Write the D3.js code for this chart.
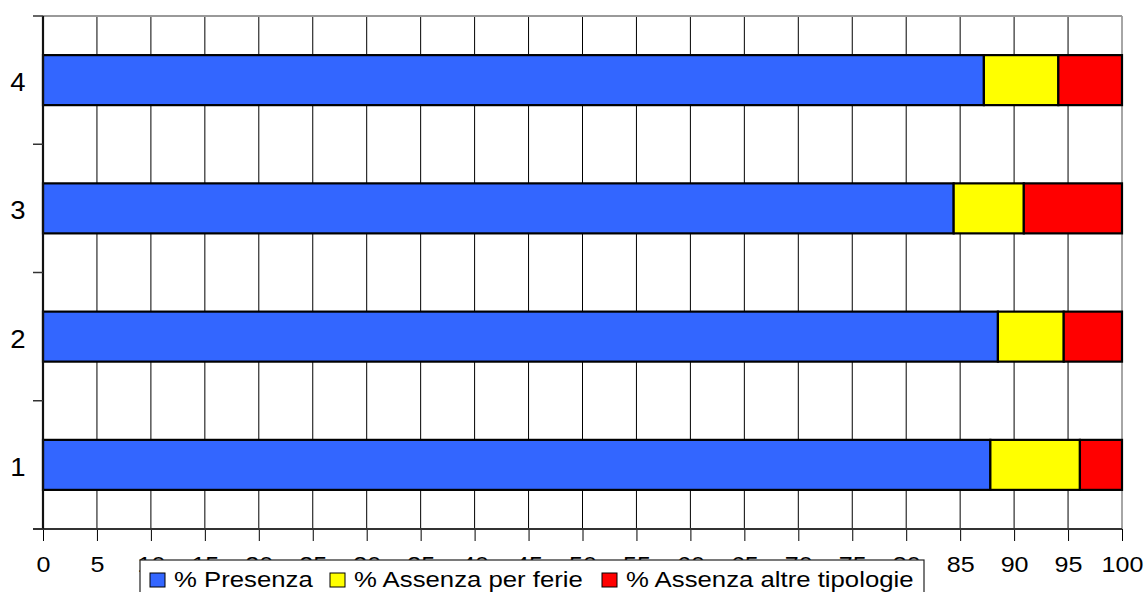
<!DOCTYPE html>
<html>
<head>
<meta charset="utf-8">
<script src="https://cdn.jsdelivr.net/npm/d3@7"></script>
<style>
  html, body { margin: 0; padding: 0; background: #fff; }
  text { font-family: "Liberation Sans", Arial, sans-serif; fill: #000; }
</style>
</head>
<body>
<script>
// categories from top to bottom
var categories = [ "4", "3", "2", "1" ];
var presenza = [ 87.2, 84.4, 88.5, 87.8 ];
var ferie = [ 6.9, 6.5, 6.1, 8.3 ];
var altre = [ 5.9, 9.1, 5.4, 3.9 ];
var seriesNames = [ "% Presenza", "% Assenza per ferie", "% Assenza altre tipologie" ];
var seriesColors = [ "#3366ff", "#ffff00", "#ff0000" ];
var xTicks = d3.range( 0, 101, 5 );

var width = 1145, height = 592;
var plotLeft = 43, plotRight = 1122, plotTop = 16, plotBottom = 529;
var sx = 1.14; // text looks horizontally stretched in the reference

var svg = d3.select( "body" ).append( "svg" )
	.attr( "width", width )
	.attr( "height", height );

var xScale = d3.scaleLinear().domain( [ 0, 100 ] ).range( [ plotLeft, plotRight ] );
var slot = d3.scaleBand().domain( categories ).range( [ plotTop, plotBottom ] );
var yScale = d3.scaleBand().domain( categories ).range( [ plotTop, plotBottom ] )
	.paddingInner( 0.61 ).paddingOuter( 0.305 );

var rows = categories.map( function ( c, i ) {
	return { cat: c, presenza: presenza[i], ferie: ferie[i], altre: altre[i] };
} );
var stack = d3.stack().keys( [ "presenza", "ferie", "altre" ] )( rows );

// vertical grid
svg.append( "g" )
	.selectAll( "line" )
	.data( xTicks.filter( function ( d ) { return d > 0; } ) )
	.enter().append( "line" )
	.attr( "x1", d => xScale( d ) ).attr( "x2", d => xScale( d ) )
	.attr( "y1", plotTop ).attr( "y2", plotBottom )
	.attr( "stroke", d => d === 100 ? "#888" : "#000" )
	.attr( "stroke-width", d => d === 100 ? 1.5 : 1 );

// top border
svg.append( "line" )
	.attr( "x1", plotLeft ).attr( "x2", plotRight )
	.attr( "y1", plotTop ).attr( "y2", plotTop )
	.attr( "stroke", "#999" ).attr( "stroke-width", 2 );

// bars
svg.append( "g" )
	.selectAll( "g" )
	.data( stack )
	.enter().append( "g" )
	.attr( "fill", (d, i) => seriesColors[i] )
	.selectAll( "rect" )
	.data( d => d )
	.enter().append( "rect" )
	.attr( "x", d => xScale( d[0] ) )
	.attr( "width", d => xScale( d[1] ) - xScale( d[0] ) )
	.attr( "y", d => yScale( d.data.cat ) )
	.attr( "height", yScale.bandwidth() )
	.attr( "stroke", "#000" )
	.attr( "stroke-width", 2.2 );

// x axis
var xAxis = svg.append( "g" )
	.attr( "transform", `translate(0, ${ plotBottom })` )
	.call( d3.axisBottom( xScale ).tickValues( xTicks ).tickSize( 12 ).tickSizeOuter( 0 ) );
xAxis.select( ".domain" ).remove();
xAxis.append( "line" )
	.attr( "x1", 33 ).attr( "x2", plotRight )
	.attr( "stroke", "#333" ).attr( "stroke-width", 2 );
xAxis.selectAll( ".tick line" ).attr( "stroke", "#000" );
xAxis.selectAll( ".tick text" )
	.attr( "y", 0 )
	.attr( "dy", 0 )
	.attr( "transform", `translate(0, 43) scale(${ sx }, 1)` )
	.style( "font-size", "22px" )
	.style( "font-family", "Liberation Sans, Arial, sans-serif" )
	.attr( "fill", "#000" );

// y axis
svg.append( "line" )
	.attr( "x1", plotLeft ).attr( "x2", plotLeft )
	.attr( "y1", plotTop ).attr( "y2", plotBottom )
	.attr( "stroke", "#111" ).attr( "stroke-width", 2.2 );
var yEdges = categories.map( c => slot( c ) ).concat( [ plotBottom ] );
svg.append( "g" )
	.selectAll( "line" )
	.data( yEdges )
	.enter().append( "line" )
	.attr( "x1", 33 ).attr( "x2", plotLeft )
	.attr( "y1", d => d ).attr( "y2", d => d )
	.attr( "stroke", "#333" ).attr( "stroke-width", 1.5 );
svg.append( "g" )
	.selectAll( "text" )
	.data( categories )
	.enter().append( "text" )
	.attr( "transform", d => `translate(18, ${ slot( d ) + slot.bandwidth() / 2 + 11 }) scale(1.1, 1)` )
	.attr( "text-anchor", "middle" )
	.style( "font-size", "25px" )
	.text( d => d );

// legend
var legend = svg.append( "g" );
legend.append( "rect" )
	.attr( "x", 140 ).attr( "y", 560 )
	.attr( "width", 784 ).attr( "height", 50 )
	.attr( "fill", "#fff" )
	.attr( "stroke", "#222" ).attr( "stroke-width", 1.2 );
var legendX = [ 150, 330, 602 ];
seriesNames.forEach( function ( name, i ) {
	legend.append( "rect" )
		.attr( "x", legendX[i] ).attr( "y", 573 )
		.attr( "width", 15 ).attr( "height", 14 )
		.attr( "fill", seriesColors[i] )
		.attr( "stroke", "#000" ).attr( "stroke-width", 1 );
	legend.append( "text" )
		.attr( "transform", `translate(${ legendX[i] + 24 }, 587) scale(1.17, 1)` )
		.style( "font-size", "22px" )
		.text( name );
} );
</script>
</body>
</html>
